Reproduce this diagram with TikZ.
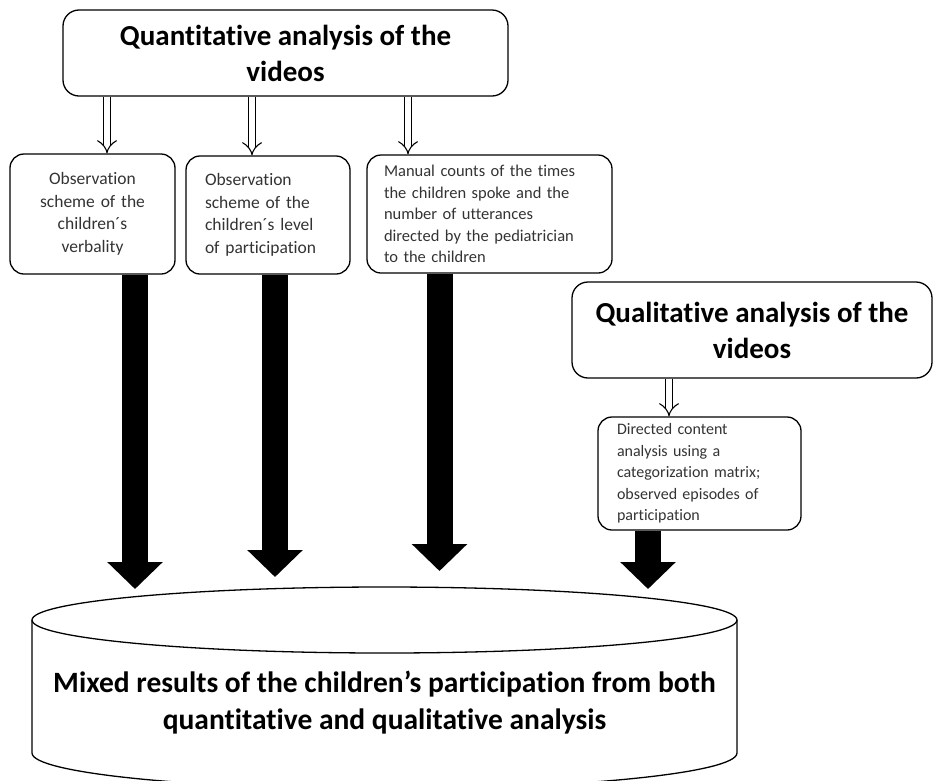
\documentclass[tikz,border=0pt]{standalone}
\usepackage{fontspec}
\setmainfont{Carlito}[Ligatures=NoCommon]
\usetikzlibrary{arrows.meta}

\begin{document}
\begin{tikzpicture}[x=1pt, y=-1pt, thick,
    box/.style={draw, rounded corners=14pt, line width=1.3pt, inner ysep=0pt, text=black!80},
    titlebox/.style={draw, rounded corners=16pt, line width=1.3pt, align=center, font=\fontsize{29}{36}\selectfont\bfseries},
    hollow/.style={double, double distance=6pt, line width=1.1pt, -{Implies}},
    bigarrow/.style={line width=26pt, -{Triangle[width=54pt, length=27pt]}}]

    \useasboundingbox (0,0) rectangle (934,780);

    % Nodes
    \node (quant) [titlebox, minimum width=445pt, minimum height=86pt] at (285.5,53) {Quantitative analysis of the\\videos};
    \node (obs1) [box, minimum width=165pt, minimum height=120pt, text width=135pt, align=center, font=\fontsize{17.5}{22.5}\selectfont] at (92.5,214) {Observation\\scheme of the\\children´s\\verbality};
    \node (obs2) [box, minimum width=164pt, minimum height=118pt, inner xsep=19pt, text width=126pt, align=left, font=\fontsize{17.5}{22.5}\selectfont] at (268,215) {Observation\\scheme of the\\children´s level\\of participation};
    \node (counts) [box, minimum width=245pt, minimum height=118pt, inner xsep=17pt, text width=211pt, align=left, font=\fontsize{16.5}{21.5}\selectfont] at (489.5,214) {Manual counts of the times\\the children spoke and the\\number of utterances\\directed by the pediatrician\\to the children};
    \node (qual) [titlebox, minimum width=360pt, minimum height=96pt] at (752,330) {Qualitative analysis of the\\videos};
    \node (content) [box, minimum width=203pt, minimum height=113pt, inner xsep=19pt, text width=165pt, align=left, font=\fontsize{16}{21.5}\selectfont] at (699.5,473.5) {Directed content\\analysis using a\\categorization matrix;\\observed episodes of\\participation};

    % Cylinder
    \draw[line width=1.3pt] (384.5,620) ellipse [x radius=352.5, y radius=33];
    \draw[line width=1.3pt] (32,620) -- (32,753) arc[start angle=180, end angle=0, x radius=352.5, y radius=36] -- (737,620);
    \node (results) [font=\fontsize{29.5}{37}\selectfont\bfseries, align=center] at (384.5,703) {Mixed results of the children’s participation from both\\quantitative and qualitative analysis};

    % Arrow ends
    \coordinate (h1) at (107,0);
    \coordinate (h2) at (252,0);
    \coordinate (h3) at (408,0);
    \coordinate (h4) at (669,0);
    \coordinate (tip1) at (135,589);
    \coordinate (tip2) at (275,577);
    \coordinate (tip3) at (439.5,571);
    \coordinate (tip4) at (648,589);

    % Arrows
    \draw[hollow] (quant.south -| h1) -- (obs1.north -| h1);
    \draw[hollow] (quant.south -| h2) -- (obs2.north -| h2);
    \draw[hollow] (quant.south -| h3) -- (counts.north -| h3);
    \draw[hollow] (qual.south -| h4) -- (content.north -| h4);
    \draw[bigarrow] (obs1.south -| tip1) -- (tip1);
    \draw[bigarrow] (obs2.south -| tip2) -- (tip2);
    \draw[bigarrow] (counts.south -| tip3) -- (tip3);
    \draw[bigarrow] (content.south -| tip4) -- (tip4);
\end{tikzpicture}
\end{document}
